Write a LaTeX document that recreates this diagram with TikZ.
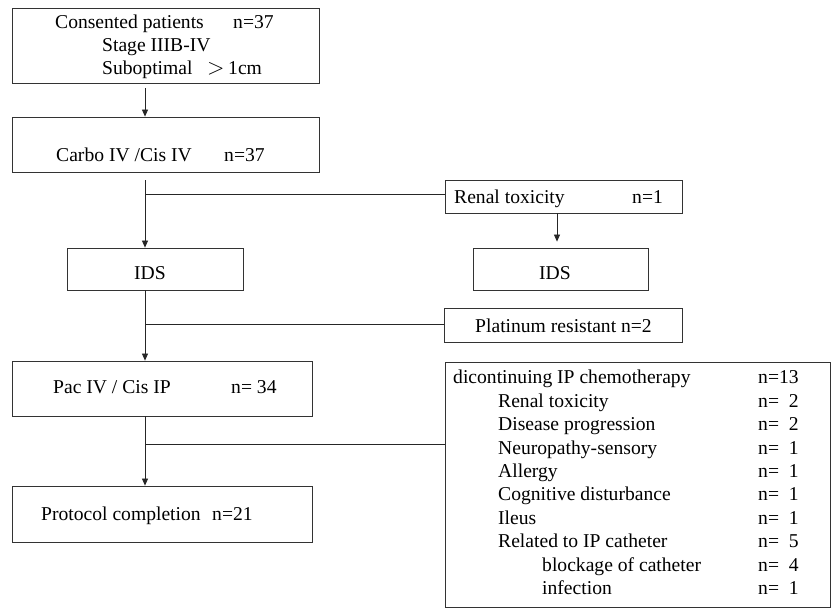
\documentclass[tikz,border=0pt]{standalone}
\usepackage{fontspec}
\setmainfont{Liberation Serif}
\usetikzlibrary{arrows.meta}
\begin{document}
\begin{tikzpicture}[x=1pt,y=-1pt,
  box/.style={draw=black!80,line width=0.8pt,inner sep=0pt,rectangle},
  txt/.style={anchor=base west,inner sep=0pt,font=\fontsize{19.6}{23.4}\selectfont},
  ctxt/.style={anchor=base,inner sep=0pt,font=\fontsize{19.6}{23.4}\selectfont},
  link/.style={draw=black!85,line width=0.8pt},
  arr/.style={link,-{Triangle[length=7pt,width=6pt]}}]
\useasboundingbox (0,0) rectangle (831,609);
% boxes
\node[box,minimum width=307pt,minimum height=75pt] (b1) at (165.5,45.5) {};
\node[box,minimum width=307pt,minimum height=55pt] (b2) at (165.5,144.5) {};
\node[box,minimum width=176pt,minimum height=42pt] (ids1) at (155,269) {};
\node[box,minimum width=237pt,minimum height=33pt] (renal) at (563.5,196.5) {};
\node[box,minimum width=175pt,minimum height=42pt] (ids2) at (560.5,269) {};
\node[box,minimum width=238pt,minimum height=34pt] (plat) at (563,325) {};
\node[box,minimum width=300pt,minimum height=55pt] (pac) at (162,388.5) {};
\node[box,minimum width=385pt,minimum height=245pt] (big) at (637.5,484.5) {};
\node[box,minimum width=300pt,minimum height=56pt] (prot) at (162,514) {};
% texts
\node[txt] (t1a) at (55,29) {Consented patients};
\node[txt] (t1b) at (233,29) {n=37};
\node[txt] (t1c) at (102,52) {Stage IIIB-IV};
\node[txt] (t1d) at (102,75) {Suboptimal};
\node[txt] (t1e) at (207,75) {\scalebox{1.1}{$>$}};
\node[txt] (t1f) at (228,75) {1cm};
\node[txt] (t2a) at (56,162) {Carbo IV /Cis IV};
\node[txt] (t2b) at (224,162) {n=37};
\node[ctxt] (t3) at (150,280) {IDS};
\node[ctxt] (t4) at (555,280) {IDS};
\node[txt] (t5a) at (454,204) {Renal toxicity};
\node[txt] (t5b) at (632,204) {n=1};
\node[txt] (t6) at (475,333) {Platinum resistant n=2};
\node[txt] (t7a) at (53,394) {Pac IV / Cis IP};
\node[txt] (t7b) at (231,394) {n= 34};
\node[txt] (t8a) at (41,521) {Protocol completion};
\node[txt] (t8b) at (212,521) {n=21};
% big box list
\foreach \lab/\num/\ind [count=\i from 0] in
  {dicontinuing IP chemotherapy/n=13/453,
   Renal toxicity/n=\phantom{1}2/498,
   Disease progression/n=\phantom{1}2/498,
   Neuropathy-sensory/n=\phantom{1}1/498,
   Allergy/n=\phantom{1}1/498,
   Cognitive disturbance/n=\phantom{1}1/498,
   Ileus/n=\phantom{1}1/498,
   Related to IP catheter/n=\phantom{1}5/498,
   blockage of catheter/n=\phantom{1}4/542,
   infection/n=\phantom{1}1/542}
{
  \node[txt] (l\i) at (\ind,384+23.4*\i) {\lab};
  \node[txt] (n\i) at (758,384+23.4*\i) {\num};
}
% connectors
\coordinate (sp) at (145,0);
\coordinate (j1) at (145,194);
\coordinate (j2) at (145,324);
\coordinate (j3) at (145,444);
\draw[arr,shorten <=5pt] (b1.south -| sp) -- (b2.north -| sp);
\draw[arr,shorten <=8pt] (b2.south -| sp) -- (ids1.north -| sp);
\draw[link] (j1) -- (j1 -| renal.west);
\draw[arr,shorten >=6pt] ([xshift=-6.5pt]renal.south) -- ([xshift=-6.5pt]renal.south |- ids2.north);
\draw[arr] (ids1.south -| sp) -- (pac.north -| sp);
\draw[link] (j2) -- (j2 -| plat.west);
\draw[arr] (pac.south -| sp) -- (prot.north -| sp);
\draw[link] (j3) -- (j3 -| big.west);
\end{tikzpicture}
\end{document}
